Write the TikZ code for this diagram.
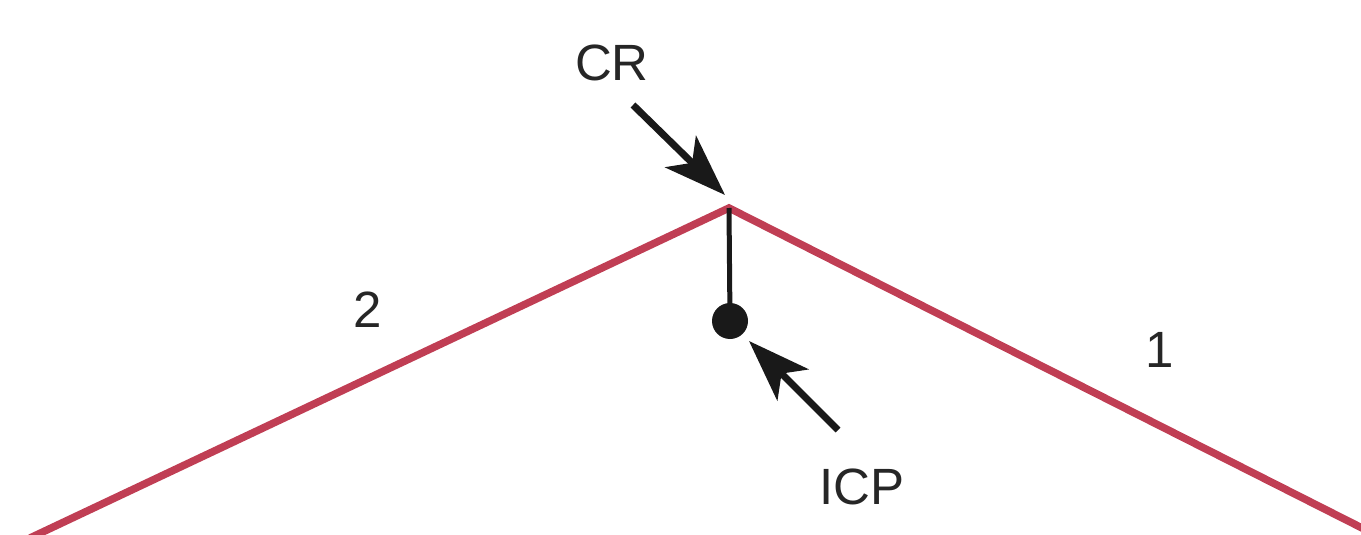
\documentclass[tikz,border=0pt]{standalone}
\usepackage{fontspec}
\setmainfont{Liberation Sans}
\usetikzlibrary{arrows.meta}
\definecolor{edgered}{RGB}{192,62,84}
\begin{document}
\begin{tikzpicture}[x=1pt,y=-1pt,
  edge/.style={draw=edgered,line width=7.5pt},
  pointer/.style={draw=black!90,line width=7pt,
    -{Stealth[length=62pt,width=44pt,inset=16pt]}},
  lbl/.style={font=\fontsize{51}{53}\selectfont,text=black!85,inner sep=0pt}]
  \useasboundingbox (0,0) rectangle (1361,535);
  % two sides meeting at the corner
  \coordinate (apex) at (729,208);
  \coordinate (leftend) at (30,538);
  \coordinate (rightend) at (1366,530);
  \draw[edge,line join=miter] (leftend) -- (apex) -- (rightend);
  % point inside the corner
  \node[circle,fill=black!90,minimum size=36pt,inner sep=0pt] (icp) at (730,321) {};
  \draw[black!90,line width=5pt] (apex) -- (icp.center);
  % labels
  \node[lbl] (cr) at (612,63) {CR};
  \node[lbl] (icplbl) at (862,487) {ICP};
  \node[lbl] (two) at (368,310) {2};
  \node[lbl] (one) at (1160,350) {1};
  % pointers
  \coordinate (crtail) at (633,105);
  \coordinate (crtip) at (725,195);
  \draw[pointer] (crtail) -- (crtip);
  \coordinate (icptail) at (838,430);
  \coordinate (icptip) at (749,341);
  \draw[pointer] (icptail) -- (icptip);
\end{tikzpicture}
\end{document}
